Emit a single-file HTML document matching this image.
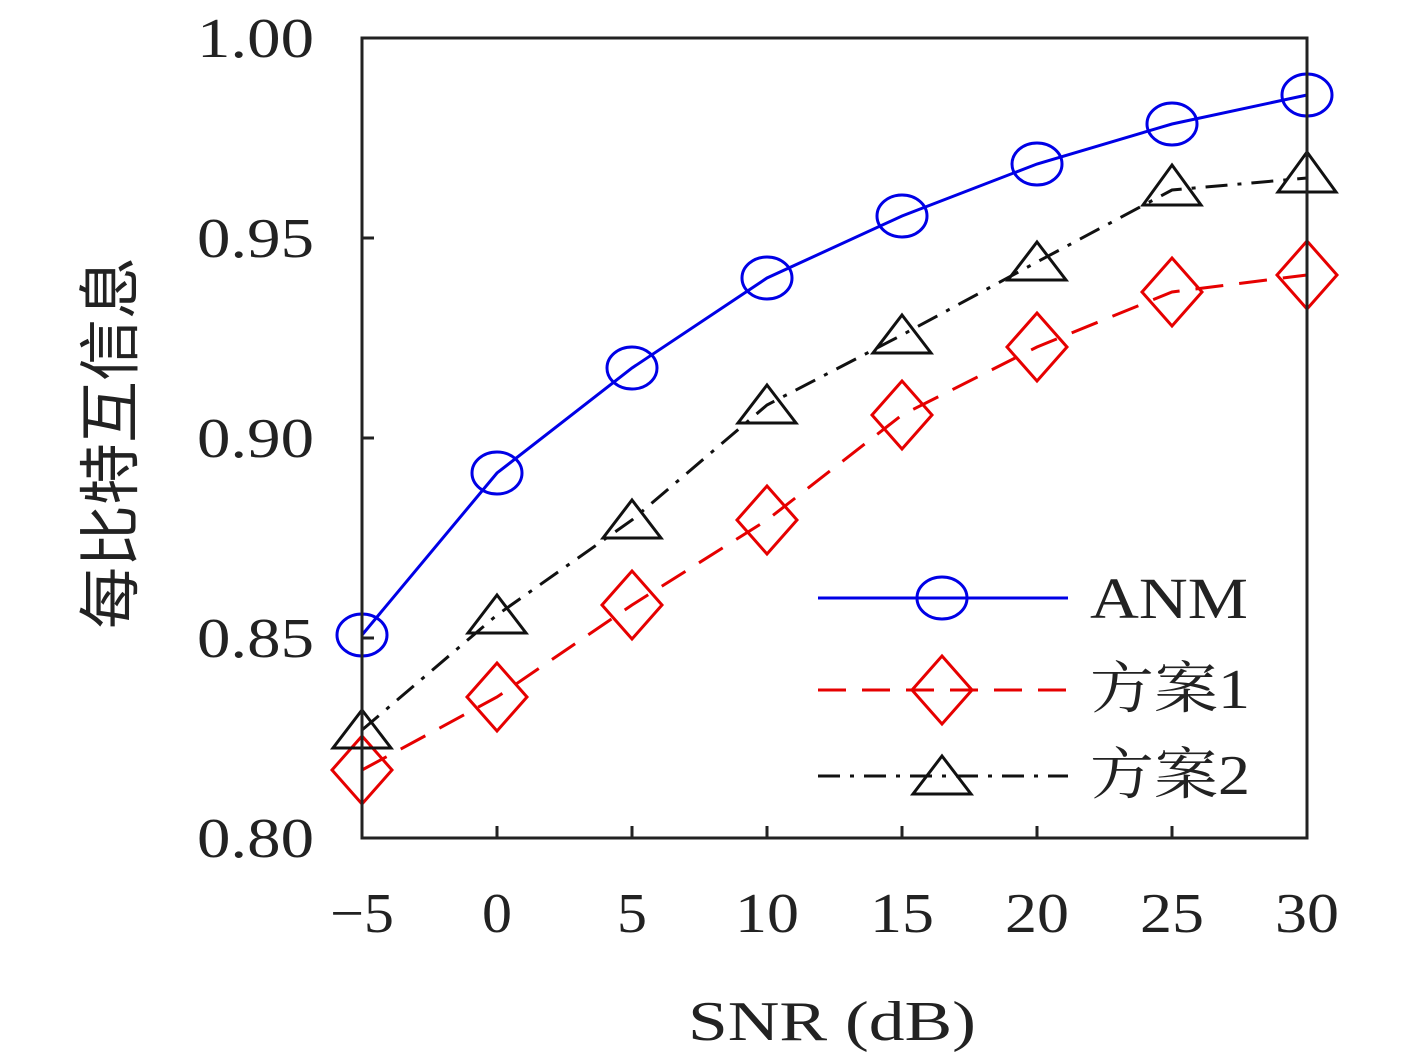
<!DOCTYPE html>
<html><head><meta charset="utf-8"><style>
html,body{margin:0;padding:0;background:#fff;}
svg{display:block;}
text{font-family:"Liberation Serif","Noto Serif CJK SC",serif;fill:#222;}
</style></head><body>
<svg width="1417" height="1058" viewBox="0 0 1417 1058" xmlns="http://www.w3.org/2000/svg">
<rect width="1417" height="1058" fill="#fff"/>
<g stroke="#222" stroke-width="3">
<line x1="362" y1="238" x2="374" y2="238"/><line x1="362" y1="438" x2="374" y2="438"/><line x1="362" y1="638" x2="374" y2="638"/>
<line x1="497" y1="838" x2="497" y2="826"/><line x1="632" y1="838" x2="632" y2="826"/><line x1="767" y1="838" x2="767" y2="826"/><line x1="902" y1="838" x2="902" y2="826"/><line x1="1037" y1="838" x2="1037" y2="826"/><line x1="1172" y1="838" x2="1172" y2="826"/>
</g>
<polyline fill="none" stroke="#0000e6" stroke-width="3" points="362,635 497,473 632,368 767,278 902,216 1037,164 1172,124 1307,95"/>
<g fill="none" stroke="#0000e6" stroke-width="3">
<ellipse cx="362" cy="635" rx="25" ry="21"/><ellipse cx="497" cy="473" rx="25" ry="21"/><ellipse cx="632" cy="368" rx="25" ry="21"/><ellipse cx="767" cy="278" rx="25" ry="21"/><ellipse cx="902" cy="216" rx="25" ry="21"/><ellipse cx="1037" cy="164" rx="25" ry="21"/><ellipse cx="1172" cy="124" rx="25" ry="21"/><ellipse cx="1307" cy="95" rx="25" ry="21"/>
</g>
<polyline fill="none" stroke="#e60000" stroke-width="3" stroke-dasharray="28,16" points="362,770 497,697 632,605 767,520 902,415 1037,347 1172,292 1307,275"/>
<g fill="none" stroke="#e60000" stroke-width="3">
<path d="M362,736 l30,34 l-30,34 l-30,-34z"/><path d="M497,663 l30,34 l-30,34 l-30,-34z"/><path d="M632,571 l30,34 l-30,34 l-30,-34z"/><path d="M767,486 l30,34 l-30,34 l-30,-34z"/><path d="M902,381 l30,34 l-30,34 l-30,-34z"/><path d="M1037,313 l30,34 l-30,34 l-30,-34z"/><path d="M1172,258 l30,34 l-30,34 l-30,-34z"/><path d="M1307,241 l30,34 l-30,34 l-30,-34z"/>
</g>
<polyline fill="none" stroke="#111" stroke-width="3" stroke-dasharray="22,10,4,10" points="362,730 497,615 632,520 767,405 902,335 1037,262 1172,190 1307,178"/>
<g fill="none" stroke="#111" stroke-width="3">
<path d="M362,710 l29,38 h-58z"/><path d="M497,595 l29,38 h-58z"/><path d="M632,500 l29,38 h-58z"/><path d="M767,385 l29,38 h-58z"/><path d="M902,315 l29,38 h-58z"/><path d="M1037,242 l29,38 h-58z"/><path d="M1172,165 l29,40 h-58z"/><path d="M1307,152 l29,40 h-58z"/>
</g>
<line x1="818" y1="598" x2="1068" y2="598" stroke="#0000e6" stroke-width="3"/>
<ellipse cx="942" cy="598" rx="25" ry="21" fill="none" stroke="#0000e6" stroke-width="3"/>
<line x1="818" y1="690" x2="1068" y2="690" stroke="#e60000" stroke-width="3" stroke-dasharray="28,16"/>
<path d="M942,656 l30,34 l-30,34 l-30,-34z" fill="none" stroke="#e60000" stroke-width="3"/>
<line x1="818" y1="776" x2="1068" y2="776" stroke="#111" stroke-width="3" stroke-dasharray="22,10,4,10"/>
<path d="M942,756 l29,38 h-58z" fill="none" stroke="#111" stroke-width="3"/>
<text x="1090" y="618" font-size="58" textLength="158" lengthAdjust="spacingAndGlyphs">ANM</text>
<text x="1090" y="708" font-size="56" textLength="160" lengthAdjust="spacingAndGlyphs">方案1</text>
<text x="1090" y="794" font-size="56" textLength="160" lengthAdjust="spacingAndGlyphs">方案2</text>
<rect x="362" y="38" width="945" height="800" fill="none" stroke="#222" stroke-width="3"/>
<g font-size="56">
<text x="197" y="57" textLength="117" lengthAdjust="spacingAndGlyphs">1.00</text>
<text x="197" y="257" textLength="117" lengthAdjust="spacingAndGlyphs">0.95</text>
<text x="197" y="457" textLength="117" lengthAdjust="spacingAndGlyphs">0.90</text>
<text x="197" y="657" textLength="117" lengthAdjust="spacingAndGlyphs">0.85</text>
<text x="197" y="857" textLength="117" lengthAdjust="spacingAndGlyphs">0.80</text>
</g>
<g font-size="56">
<text x="330" y="932" textLength="64" lengthAdjust="spacingAndGlyphs">−5</text>
<text x="482" y="932" textLength="30" lengthAdjust="spacingAndGlyphs">0</text>
<text x="617" y="932" textLength="30" lengthAdjust="spacingAndGlyphs">5</text>
<text x="735" y="932" textLength="64" lengthAdjust="spacingAndGlyphs">10</text>
<text x="870" y="932" textLength="64" lengthAdjust="spacingAndGlyphs">15</text>
<text x="1005" y="932" textLength="64" lengthAdjust="spacingAndGlyphs">20</text>
<text x="1140" y="932" textLength="64" lengthAdjust="spacingAndGlyphs">25</text>
<text x="1275" y="932" textLength="64" lengthAdjust="spacingAndGlyphs">30</text>
<text x="688" y="1040" textLength="288" lengthAdjust="spacingAndGlyphs">SNR (dB)</text>
</g>
<text transform="translate(132,443) rotate(-90)" font-size="62" text-anchor="middle" style="font-family:'Noto Sans CJK SC',sans-serif">每比特互信息</text>
</svg>
</body></html>
